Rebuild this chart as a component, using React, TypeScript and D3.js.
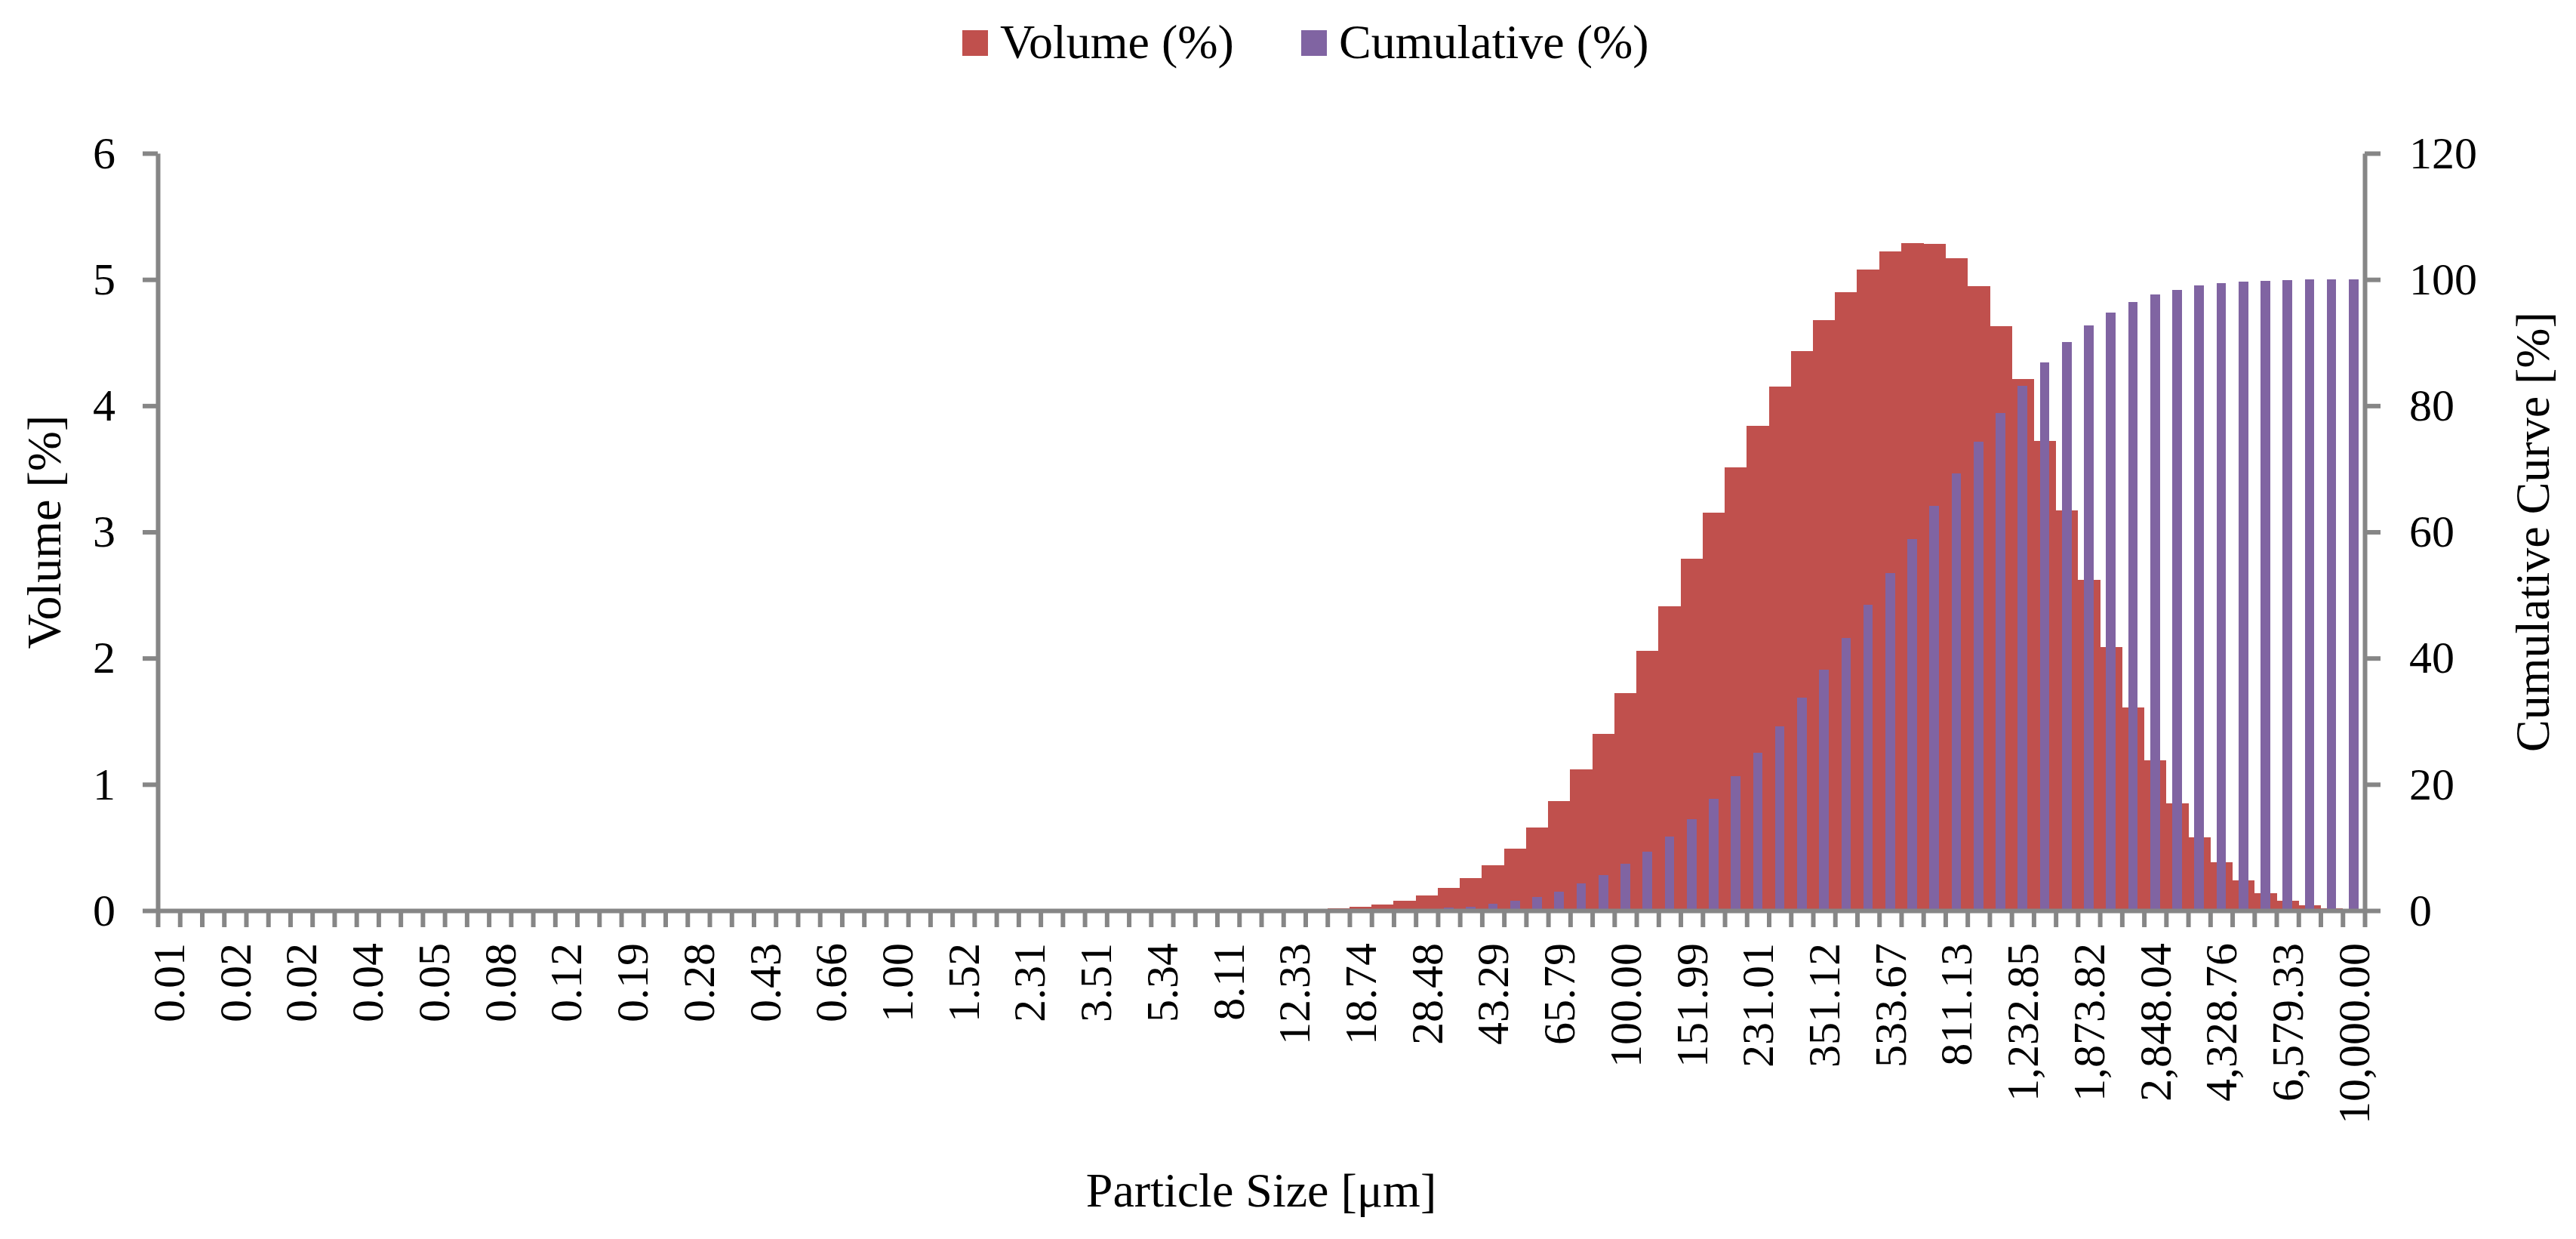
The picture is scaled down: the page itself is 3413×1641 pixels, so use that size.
import React, { useEffect, useRef } from "react";
import * as d3 from "d3";

// particle size classes [µm] – 100 bins from 0.01 to 10,000
const sizes: number[] = [
  0.01, 0.0115, 0.0132, 0.0152, 0.0175, 0.0201, 0.0231, 0.0266, 0.0305, 0.0351,
  0.0404, 0.0464, 0.0534, 0.0614, 0.0705, 0.0811, 0.0933, 0.1072, 0.1233, 0.1417,
  0.163, 0.1874, 0.2154, 0.2477, 0.2848, 0.3275, 0.3765, 0.4329, 0.4977, 0.5722,
  0.6579, 0.7565, 0.8697, 1.0, 1.1498, 1.3219, 1.5199, 1.7475, 2.0092, 2.3101,
  2.6561, 3.0539, 3.5112, 4.037, 4.6416, 5.3367, 6.1359, 7.0548, 8.1113, 9.326,
  10.7227, 12.3285, 14.1747, 16.2975, 18.7382, 21.5443, 24.7708, 28.4804, 32.7455, 37.6494,
  43.2876, 49.7702, 57.2237, 65.7933, 75.6463, 86.9749, 100, 114.976, 132.194, 151.991,
  174.753, 200.923, 231.013, 265.609, 305.386, 351.119, 403.702, 464.159, 533.67, 613.591,
  705.48, 811.131, 932.603, 1072.27, 1232.85, 1417.47, 1629.75, 1873.82, 2154.43, 2477.08,
  2848.04, 3274.55, 3764.94, 4328.76, 4977.02, 5722.37, 6579.33, 7564.63, 8697.49, 10000,
];

// Volume (%) per class
const volume: number[] = [
  0, 0, 0, 0, 0, 0, 0, 0, 0, 0,
  0, 0, 0, 0, 0, 0, 0, 0, 0, 0,
  0, 0, 0, 0, 0, 0, 0, 0, 0, 0,
  0, 0, 0, 0, 0, 0, 0, 0, 0, 0,
  0, 0, 0, 0, 0, 0, 0, 0, 0, 0,
  0, 0, 0, 0.02, 0.03, 0.05, 0.08, 0.12, 0.18, 0.26,
  0.36, 0.49, 0.66, 0.87, 1.12, 1.4, 1.72, 2.06, 2.41, 2.79,
  3.15, 3.51, 3.84, 4.15, 4.43, 4.68, 4.9, 5.08, 5.22, 5.29,
  5.28, 5.17, 4.95, 4.63, 4.21, 3.72, 3.17, 2.62, 2.09, 1.61,
  1.19, 0.85, 0.58, 0.38, 0.24, 0.14, 0.08, 0.04, 0.02, 0,
];

// Cumulative (%) per class
const cumulative: number[] = [
  0, 0, 0, 0, 0, 0, 0, 0, 0, 0,
  0, 0, 0, 0, 0, 0, 0, 0, 0, 0,
  0, 0, 0, 0, 0, 0, 0, 0, 0, 0,
  0, 0, 0, 0, 0, 0, 0, 0, 0, 0,
  0, 0, 0, 0, 0, 0, 0, 0, 0, 0,
  0, 0, 0, 0.02, 0.05, 0.09, 0.17, 0.29, 0.42, 0.62,
  1.06, 1.55, 2.19, 3.0, 4.3, 5.6, 7.37, 9.3, 11.7, 14.5,
  17.7, 21.3, 25.0, 29.2, 33.7, 38.2, 43.2, 48.4, 53.5, 58.9,
  64.1, 69.3, 74.3, 78.8, 83.2, 86.9, 90.1, 92.7, 94.7, 96.4,
  97.6, 98.4, 99.1, 99.4, 99.65, 99.8, 99.9, 100, 100, 100,
];

const leftTicks = [0, 1, 2, 3, 4, 5, 6];
const rightTicks = [0, 20, 40, 60, 80, 100, 120];
const labelEvery = 3;

const W = 3413;
const H = 1641;
const FONT = "'Liberation Serif', 'Times New Roman', serif";
const RED = "#C0504D";
const PURPLE = "#8064A2";
const AXIS = "#868686";

const App: React.FC = () => {
  const svgRef = useRef<SVGSVGElement | null>(null);

  useEffect(() => {
    if (!svgRef.current) return;
    const margin = { top: 203, right: 280, bottom: 435, left: 209 };
    const x0 = margin.left;
    const x1 = W - margin.right;
    const yBottom = H - margin.bottom;

    const svg = d3.select(svgRef.current);
    svg.selectAll("*").remove();
    svg.append("rect").attr("width", W).attr("height", H).attr("fill", "#fff");

    const idx = sizes.map((_, i) => i);
    const xScale = d3.scaleBand<number>().domain(idx).range([x0, x1]).padding(0);
    const bw = xScale.bandwidth();
    const xEdge = d3.scaleLinear().domain([0, sizes.length]).range([x0, x1]);

    const yLeft = d3.scaleLinear().domain([0, 6]).range([yBottom, margin.top]);
    const yRight = d3.scaleLinear().domain([0, 120]).range([yBottom, margin.top]);

    // primary series – no gap between bars
    svg
      .append("g")
      .attr("shape-rendering", "crispEdges")
      .selectAll("rect")
      .data(volume)
      .enter()
      .append("rect")
      .attr("x", (_, i) => xScale(i)!)
      .attr("y", (d) => yLeft(d))
      .attr("width", bw + 0.6)
      .attr("height", (d) => yLeft(0) - yLeft(d))
      .attr("fill", RED);

    // secondary series – narrower bars (gap width ~130%)
    const pw = bw / 2.3;
    svg
      .append("g")
      .attr("shape-rendering", "crispEdges")
      .selectAll("rect")
      .data(cumulative)
      .enter()
      .append("rect")
      .attr("x", (_, i) => xScale(i)! + (bw - pw) / 2)
      .attr("y", (d) => yRight(d))
      .attr("width", pw)
      .attr("height", (d) => yRight(0) - yRight(d))
      .attr("fill", PURPLE);

    const styleAxis = (g: d3.Selection<SVGGElement, unknown, null, undefined>) => {
      g.attr("font-family", FONT).attr("font-size", 60);
      g.selectAll(".domain").attr("stroke", AXIS).attr("stroke-width", 6);
      g.selectAll(".tick line").attr("stroke", AXIS).attr("stroke-width", 6);
      g.selectAll(".tick text").attr("fill", "#000");
    };

    // x axis: tick marks on class boundaries
    svg
      .append("g")
      .attr("transform", `translate(0, ${yBottom})`)
      .call(
        d3
          .axisBottom(xEdge)
          .tickValues(d3.range(0, sizes.length + 1))
          .tickFormat(() => "")
          .tickSizeInner(22)
          .tickSizeOuter(0)
      )
      .call(styleAxis);

    // x labels, every third class, rotated
    const fmt = d3.format(",.2f");
    svg
      .append("g")
      .selectAll("text")
      .data(idx.filter((i) => i % labelEvery === 0))
      .enter()
      .append("text")
      .attr("transform", (i) => `translate(${xScale(i)! + bw / 2}, 1249) rotate(-90)`)
      .attr("text-anchor", "end")
      .attr("dy", "0.34em")
      .attr("font-family", FONT)
      .attr("font-size", 60)
      .attr("fill", "#000")
      .text((i) => fmt(sizes[i]));

    svg
      .append("g")
      .attr("transform", `translate(${x0}, 0)`)
      .call(
        d3
          .axisLeft(yLeft)
          .tickValues(leftTicks)
          .tickFormat(d3.format("d"))
          .tickSizeInner(20)
          .tickSizeOuter(0)
          .tickPadding(36)
      )
      .call(styleAxis);

    svg
      .append("g")
      .attr("transform", `translate(${x1}, 0)`)
      .call(
        d3
          .axisRight(yRight)
          .tickValues(rightTicks)
          .tickFormat(d3.format("d"))
          .tickSizeInner(21)
          .tickSizeOuter(0)
          .tickPadding(38)
      )
      .call(styleAxis);

    // axis titles
    svg
      .append("text")
      .attr("transform", `translate(80, ${(margin.top + yBottom) / 2}) rotate(-90)`)
      .attr("text-anchor", "middle")
      .attr("font-family", FONT)
      .attr("font-size", 64)
      .text("Volume [%]");

    svg
      .append("text")
      .attr("transform", `translate(3377, ${(margin.top + yBottom) / 2}) rotate(-90)`)
      .attr("text-anchor", "middle")
      .attr("font-family", FONT)
      .attr("font-size", 64)
      .text("Cumulative Curve [%]");

    svg
      .append("text")
      .attr("x", (x0 + x1) / 2)
      .attr("y", 1598)
      .attr("text-anchor", "middle")
      .attr("font-family", FONT)
      .attr("font-size", 64)
      .text("Particle Size [μm]");

    // legend
    const legend = [
      { name: "Volume (%)", color: RED, x: 1275 },
      { name: "Cumulative (%)", color: PURPLE, x: 1724 },
    ];
    const lg = svg.append("g");
    lg.selectAll("rect")
      .data(legend)
      .enter()
      .append("rect")
      .attr("x", (d) => d.x)
      .attr("y", 40)
      .attr("width", 34)
      .attr("height", 34)
      .attr("fill", (d) => d.color);
    lg.selectAll("text")
      .data(legend)
      .enter()
      .append("text")
      .attr("x", (d) => d.x + 50)
      .attr("y", 77)
      .attr("font-family", FONT)
      .attr("font-size", 64)
      .text((d) => d.name);
  }, []);

  return (
    <svg
      ref={svgRef}
      width={W}
      height={H}
      style={{ position: "absolute", left: 0, top: 0, display: "block" }}
    ></svg>
  );
};

export default App;
